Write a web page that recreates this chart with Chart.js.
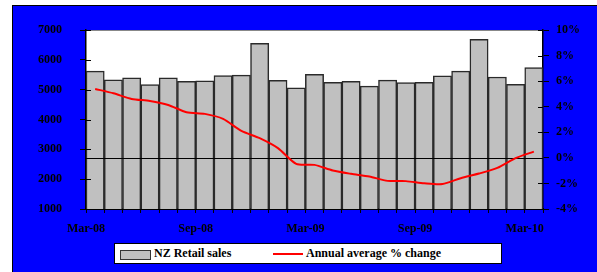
<!DOCTYPE html>
<html>
<head>
<meta charset="utf-8">
<script src="https://cdn.jsdelivr.net/npm/chart.js@4.4.1/dist/chart.umd.min.js"></script>
<style>
  body { margin: 0; background: #fff; }
  #wrap { position: relative; width: 597px; height: 272px; overflow: hidden; }
  #legend {
    position: absolute; left: 114px; top: 243px; width: 388px; height: 21px;
    background: #fff; border: 1px solid #000; box-sizing: border-box;
    font: bold 12px "Liberation Serif", "Times New Roman", serif; color: #000;
  }
  #legend .sw { position: absolute; left: 5px; top: 6px; width: 29px; height: 8px; background: #c0c0c0; border: 1px solid #333; }
  #legend .t1 { position: absolute; left: 39px; top: 2px; }
  #legend .ln { position: absolute; left: 158px; top: 9px; width: 30px; height: 2px; background: #ff0000; }
  #legend .t2 { position: absolute; left: 191px; top: 2px; }
</style>
</head>
<body>
<div id="wrap">
  <canvas id="chart" width="597" height="272"></canvas>
  <div id="legend">
    <div class="sw"></div><span class="t1">NZ Retail sales</span>
    <div class="ln"></div><span class="t2">Annual average % change</span>
  </div>
</div>
<script>
const months = ["Mar-08", "Apr-08", "May-08", "Jun-08", "Jul-08", "Aug-08", "Sep-08",
  "Oct-08", "Nov-08", "Dec-08", "Jan-09", "Feb-09", "Mar-09", "Apr-09", "May-09",
  "Jun-09", "Jul-09", "Aug-09", "Sep-09", "Oct-09", "Nov-09", "Dec-09", "Jan-10",
  "Feb-10", "Mar-10"];
const retailSales = [5620, 5330, 5400, 5170, 5400, 5280, 5300, 5470, 5490, 6550,
  5310, 5060, 5510, 5250, 5280, 5120, 5320, 5235, 5250, 5460, 5620, 6690, 5425,
  5180, 5740];
const annualChange = [5.39, 5.05, 4.61, 4.45, 4.14, 3.57, 3.44, 3.05, 2.11, 1.54,
  0.76, -0.47, -0.55, -0.99, -1.25, -1.46, -1.80, -1.82, -1.99, -2.05, -1.59,
  -1.23, -0.78, -0.02, 0.49];
const shownLabels = ["Mar-08", "Sep-08", "Mar-09", "Sep-09", "Mar-10"];

const font = { family: "'Liberation Serif', 'Times New Roman', serif", size: 12, weight: "bold" };

// background, plot area, zero line
const frame = {
  id: "frame",
  beforeDraw(chart) {
    const c = chart.ctx, a = chart.chartArea;
    c.save();
    c.fillStyle = "#0000ff";
    c.fillRect(12, 5, 585, 267);
    c.fillStyle = "#000";
    c.fillRect(12, 5, 585, 1);
    c.fillRect(12, 5, 1, 267);
    c.fillStyle = "#fff";
    c.fillRect(a.left, a.top, a.right - a.left, a.bottom - a.top);
    c.fillStyle = "#888";
    c.fillRect(a.left, a.top, a.right - a.left, 1);
    c.restore();
  },
  afterDatasetDraw(chart, args) {
    if (args.index !== 0) return;
    const c = chart.ctx, a = chart.chartArea;
    const y = Math.round(chart.scales.y2.getPixelForValue(0)) + 0.5;
    c.save();
    c.strokeStyle = "#000";
    c.lineWidth = 1;
    c.beginPath();
    c.moveTo(a.left, y);
    c.lineTo(a.right, y);
    c.stroke();
    c.restore();
  },
  afterDraw(chart) {
    // tick marks that cross the axis lines
    const c = chart.ctx, a = chart.chartArea;
    c.save();
    c.strokeStyle = "#000";
    c.lineWidth = 1;
    chart.scales.y.ticks.forEach((t) => {
      const y = Math.round(chart.scales.y.getPixelForValue(t.value)) + 0.5;
      c.beginPath(); c.moveTo(a.left, y); c.lineTo(a.left + 5, y); c.stroke();
    });
    chart.scales.y2.ticks.forEach((t) => {
      const y = Math.round(chart.scales.y2.getPixelForValue(t.value)) + 0.5;
      c.beginPath(); c.moveTo(a.right - 5, y); c.lineTo(a.right, y); c.stroke();
    });
    c.restore();
  }
};

new Chart(document.getElementById("chart").getContext("2d"), {
  type: "bar",
  data: {
    labels: months,
    datasets: [
      {
        type: "bar",
        label: "NZ Retail sales",
        data: retailSales,
        yAxisID: "y",
        backgroundColor: "#c0c0c0",
        borderColor: "#2a2a2a",
        borderWidth: 1.5,
        barPercentage: 1,
        categoryPercentage: 1,
        order: 2,
      },
      {
        type: "line",
        label: "Annual average % change",
        data: annualChange,
        yAxisID: "y2",
        borderColor: "#ff0000",
        borderWidth: 2,
        pointRadius: 0,
        tension: 0.25,
        fill: false,
        order: 1,
      },
    ],
  },
  plugins: [frame],
  options: {
    responsive: false,
    animation: false,
    layout: { padding: { top: 30, left: 0, right: 0, bottom: 0 } },
    plugins: { legend: { display: false }, tooltip: { enabled: false } },
    scales: {
      x: {
        offset: true,
        grid: { offset: true, drawOnChartArea: false, tickLength: 4, color: "#000" },
        border: { color: "#000", width: 2 },
        ticks: {
          autoSkip: false,
          maxRotation: 0,
          padding: 9,
          labelOffset: -9.14,
          color: "#000",
          font: font,
          callback(v, i) {
            const l = months[i];
            return shownLabels.includes(l) ? l : "";
          },
        },
        afterFit(s) { s.height = 63; },
      },
      y: {
        position: "left",
        min: 1000,
        max: 7000,
        grid: { drawOnChartArea: false, tickLength: 6, color: "#000" },
        border: { color: "#000", width: 1.5 },
        ticks: { stepSize: 1000, padding: 18, color: "#000", font: font, callback: (v) => String(v) },
        afterFit(s) { s.width = 86; },
      },
      y2: {
        position: "right",
        min: -4,
        max: 10,
        grid: { drawOnChartArea: false, tickLength: 6, color: "#000" },
        border: { color: "#000", width: 1.5 },
        ticks: { stepSize: 2, padding: 7, color: "#000", font: font, callback: (v) => v + "%" },
        afterFit(s) { s.width = 54; },
      },
    },
  },
});
</script>
</body>
</html>
